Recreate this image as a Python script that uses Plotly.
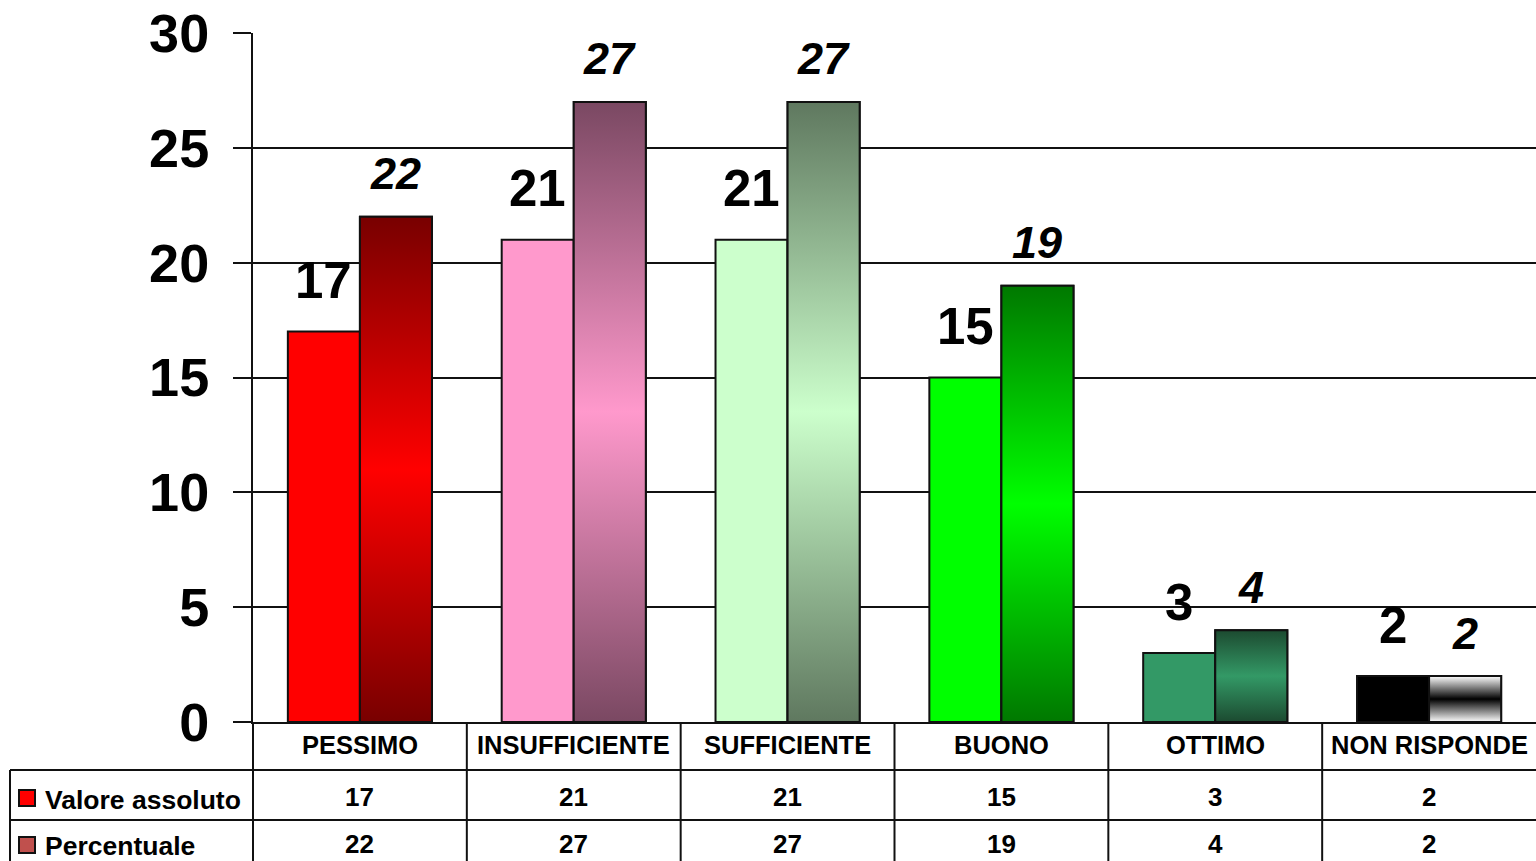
import plotly.graph_objects as go

# ---------------- data ----------------
categories = ["PESSIMO", "INSUFFICIENTE", "SUFFICIENTE", "BUONO", "OTTIMO", "NON RISPONDE"]
valore_assoluto = [17, 21, 21, 15, 3, 2]
percentuale = [22, 27, 27, 19, 4, 2]
series_names = ["Valore assoluto", "Percentuale"]
y_ticks = [0, 5, 10, 15, 20, 25, 30]

# ---------------- styles ----------------
solid_colors = ["#ff0000", "#ff99cc", "#ccffcc", "#00ff00", "#339966", "#000000"]
grad_edge = ["#780000", "#7a4862", "#5f785f", "#007800", "#1c4a30", "#ffffff"]
grad_mid = ["#ff0000", "#ff99cc", "#ccffcc", "#00ff00", "#339966", "#000000"]
legend_key_colors = ["#ff0000", "#c0504d"]

FONT = "Liberation Sans, Arial, sans-serif"
PLOT_L, PLOT_T, PLOT_W, PLOT_H = 253, 33, 1283, 689
W, H = 1536, 861
BAR_W = 0.337


def px_x(px):
    return (px - PLOT_L) / PLOT_W


def px_y(py):
    return (PLOT_T + PLOT_H - py) / PLOT_H


xs = list(range(len(categories)))
fig = go.Figure()

fig.add_trace(go.Bar(
    x=xs, y=valore_assoluto, name=series_names[0], width=BAR_W, offset=-BAR_W,
    marker=dict(color=solid_colors, line=dict(color="#111111", width=2)),
    showlegend=False,
))
fig.add_trace(go.Bar(
    x=xs, y=percentuale, name=series_names[1], width=BAR_W, offset=0,
    marker=dict(color=grad_mid, line=dict(color="#111111", width=2)),
    showlegend=False,
))

# gradient overlay for the second series
for i, v in enumerate(percentuale):
    fig.add_trace(go.Scatter(
        x=[i, i, i + BAR_W, i + BAR_W, i],
        y=[0, v, v, 0, 0],
        mode="lines", fill="toself",
        fillgradient=dict(type="vertical",
                          colorscale=[[0, grad_edge[i]], [0.5, grad_mid[i]], [1, grad_edge[i]]]),
        line=dict(color="#111111", width=2),
        hoverinfo="skip", showlegend=False,
    ))

annotations = []
# value labels above bars
for i, v in enumerate(valore_assoluto):
    annotations.append(dict(
        x=i - BAR_W / 2, y=v, xref="x", yref="y", text=str(v), showarrow=False,
        yanchor="middle", yshift=51,
        font=dict(family=FONT, size=51, color="black", weight="bold"),
    ))
for i, v in enumerate(percentuale):
    annotations.append(dict(
        x=i + BAR_W / 2, y=v, xref="x", yref="y", text=f"<i>{v}</i>", showarrow=False,
        yanchor="middle", yshift=43,
        font=dict(family=FONT, size=45, color="black", weight="bold"),
    ))

# data table text
for i, c in enumerate(categories):
    annotations.append(dict(
        x=i, y=0, xref="x", yref="paper", text=c, showarrow=False,
        yanchor="middle", yshift=-23,
        font=dict(family=FONT, size=25.5, color="black", weight="bold"),
    ))
    annotations.append(dict(
        x=i, y=0, xref="x", yref="paper", text=str(valore_assoluto[i]), showarrow=False,
        yanchor="middle", yshift=-75,
        font=dict(family=FONT, size=26, color="black", weight="bold"),
    ))
    annotations.append(dict(
        x=i, y=0, xref="x", yref="paper", text=str(percentuale[i]), showarrow=False,
        yanchor="middle", yshift=-122,
        font=dict(family=FONT, size=26, color="black", weight="bold"),
    ))

row_shifts = [-78, -124]
for k, name in enumerate(series_names):
    annotations.append(dict(
        x=px_x(43), y=0, xref="paper", yref="paper", text=name, showarrow=False,
        xanchor="left", yanchor="middle", yshift=row_shifts[k],
        font=dict(family=FONT, size=26.5, color="black", weight="bold"),
    ))

shapes = []
line_style = dict(color="#111111", width=2)
# y axis extension through table
shapes.append(dict(type="line", xref="paper", yref="paper", x0=0, x1=0,
                   y0=0, y1=px_y(H + 5), line=line_style))
# category separators
for i in range(len(categories) - 1):
    shapes.append(dict(type="line", xref="x", yref="paper", x0=i + 0.5, x1=i + 0.5,
                       y0=0, y1=px_y(H + 5), line=line_style))
# horizontal row lines
for py in [770, 820]:
    shapes.append(dict(type="line", xref="paper", yref="paper", x0=px_x(10), x1=1,
                       y0=px_y(py), y1=px_y(py), line=line_style))
# left table border
shapes.append(dict(type="line", xref="paper", yref="paper", x0=px_x(10), x1=px_x(10),
                   y0=px_y(770), y1=px_y(H + 5), line=line_style))
# legend keys
for k, col in enumerate(legend_key_colors):
    cy = [798, 845][k]
    shapes.append(dict(type="rect", xref="paper", yref="paper",
                       x0=px_x(19), x1=px_x(35), y0=px_y(cy + 8), y1=px_y(cy - 8),
                       fillcolor=col, line=dict(color="#111111", width=2)))

fig.update_layout(
    width=W, height=H,
    margin=dict(l=PLOT_L, r=W - PLOT_L - PLOT_W, t=PLOT_T, b=H - PLOT_T - PLOT_H, pad=0),
    paper_bgcolor="white", plot_bgcolor="white",
    barmode="overlay", showlegend=False,
    annotations=annotations, shapes=shapes,
    xaxis=dict(range=[-0.5, len(categories) - 0.5], showgrid=False, zeroline=False,
               showticklabels=False, ticks="", showline=True, linecolor="#111111", linewidth=2,
               fixedrange=True),
    yaxis=dict(range=[0, 30], tickvals=y_ticks, ticktext=[str(t) for t in y_ticks],
               showgrid=True, gridcolor="#111111", gridwidth=2, zeroline=False,
               showline=True, linecolor="#111111", linewidth=2,
               ticks="outside", ticklen=18, tickwidth=2, tickcolor="#111111",
               ticklabelstandoff=13,
               tickfont=dict(family=FONT, size=54, color="black", weight="bold"),
               fixedrange=True),
)

fig.write_html(
    "out.html",
    config={"displayModeBar": False},
    post_script="document.body.style.margin='0';document.body.style.overflow='hidden';",
)
